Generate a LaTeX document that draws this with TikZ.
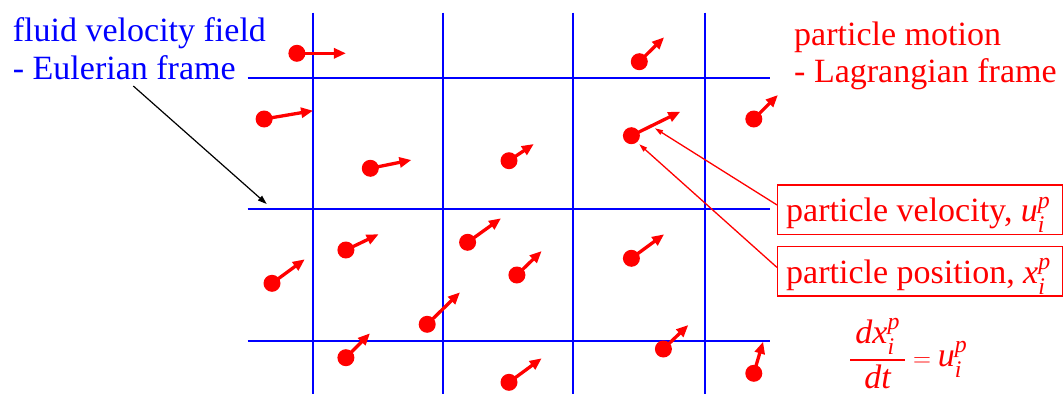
\documentclass[tikz,border=0pt]{standalone}
\usepackage{amsmath}
\usepackage{fontspec}
\setmainfont{Liberation Serif}
\usetikzlibrary{arrows.meta}
\newcommand{\bigfont}{\fontsize{34}{40}\selectfont}
\newcommand{\iv}[1]{\textit{#1}}
\newcommand{\boxline}[1]{\makebox[268pt][l]{#1}}
\begin{document}
\begin{tikzpicture}[x=1pt,y=-1pt,
  grid/.style={blue, line width=2.9pt},
  dot/.style={circle, fill=red, inner sep=0pt, minimum size=17pt},
  vel/.style={red, line width=3.3pt, -{Triangle[length=12pt,width=10pt]}},
  lbl/.style={red, line width=1.3pt, -{Triangle[length=8pt,width=5pt]}},
  txt/.style={anchor=base west, inner sep=0pt, font=\bigfont},
  lbox/.style={draw=red, line width=1.4pt, anchor=base west, inner xsep=8.5pt, inner ysep=0pt,
    text height=36.7pt, text depth=12.6pt, font=\bigfont, text=red}
]
\useasboundingbox (0,0) rectangle (1063,394);
% grid
\foreach \x in {313,443,573,705} \draw[grid] (\x,12.7) -- (\x,394);
\foreach \y in {78,209,341} \draw[grid] (247.6,\y) -- (769.7,\y);
% particles
\foreach \i/\px/\py/\tx/\ty in {
  1/296.9/53.3/345.9/53.3,
  2/639.3/61.7/664.1/37.3,
  3/264.1/119/313.1/110.7,
  4/753.8/119/777.9/95,
  5/631.4/135.7/680.3/111.7,
  6/370.3/168.3/411.4/160,
  7/509/160.7/533.8/144,
  8/345.9/250/378.6/234.3,
  9/467.6/242.3/501/218.3,
  10/272/283.3/304.8/259.3,
  11/516.9/275/541.7/251,
  12/631.4/258.3/664.1/234.3,
  13/427.2/324.3/460/292.3,
  14/345.9/357.7/370/333.3,
  15/663.4/349/688.3/325,
  16/509/382.3/541.7/358.3,
  17/753.8/373.3/763.1/341.7}
{
  \node[dot] (p\i) at (\px,\py) {};
  \coordinate (v\i) at (\tx,\ty);
  \draw[vel] (p\i.center) -- (v\i);
}
% texts
\node[txt, text=blue] (fluid) at (12.7,41.7) {fluid velocity field};
\node[txt, text=blue] (euler) at (12.7,79) {- Eulerian frame};
\node[txt, text=red] (pm) at (794,45) {particle motion};
\node[txt, text=red] (lag) at (794,82.7) {- Lagrangian frame};
\node[lbox] (box1) at (777,221.7) {\boxline{particle velocity, $\iv{u}_{\iv{i}}^{\iv{p}}$}};
\node[lbox] (box2) at (777,283.3) {\boxline{particle position, $\iv{x}_{\iv{i}}^{\iv{p}}$}};
\node[txt, text=red] (eq) at (849,366) {$\genfrac{}{}{1.6pt}{0}{\hspace{5pt}\iv{dx}_{\iv{i}}^{\iv{p}}\hspace{5pt}}{\iv{dt}} = \iv{u}_{\iv{i}}^{\iv{p}}$};
% connectors
\coordinate (a1) at (655,128.3);
\coordinate (a2) at (639.3,144.3);
\draw[lbl] ([yshift=4.7pt]box1.west) -- (a1);
\draw[lbl] ([yshift=3.8pt]box2.west) -- (a2);
\coordinate (e1) at (133.3,86);
\coordinate (e2) at (266.7,204);
\draw[black, line width=1.2pt, -{Triangle[length=9pt,width=6pt]}] (e1) -- (e2);
\end{tikzpicture}
\end{document}
